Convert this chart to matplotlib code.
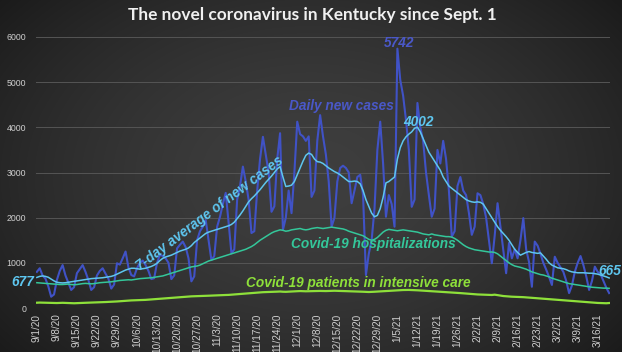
import numpy as np
import matplotlib
matplotlib.use("Agg")
import matplotlib.pyplot as plt
from matplotlib import font_manager

# ---------------- data ----------------
daily_cases = [
    800, 880, 720, 650, 480, 250, 300,
    620, 820, 950, 720, 560, 400, 460,
    770, 860, 950, 800, 620, 400, 460,
    720, 820, 880, 760, 650, 430, 520,
    990, 960, 1100, 1250, 900, 730, 700,
    880, 1000, 1050, 950, 820, 640, 660,
    1000, 1180, 1150, 1100, 1000, 640, 720,
    1320, 1400, 1470, 1350, 1100, 590, 700,
    1500, 1700, 1800, 1950, 1500, 1060, 1150,
    1800, 2020, 2300, 2550, 1900, 1210, 1300,
    2400, 2700, 3130, 2800, 2400, 1660, 1700,
    2600, 3300, 3790, 3400, 3000, 2130, 2250,
    3300, 3870, 1730, 2000, 2600, 2100, 3000,
    4125, 3850, 3800, 3700, 3800, 2460, 2600,
    3700, 4270, 3800, 3400, 2800, 1800, 2000,
    2800, 3100, 3150, 3100, 3000, 2320, 2600,
    2900, 2950, 2500, 730, 1200, 1500, 2200,
    3500, 4125, 3200, 2020, 2500, 2300, 1800,
    5742, 5050, 4700, 4160, 3500, 2240, 2400,
    4540, 4000, 3700, 3000, 2500, 2020, 2200,
    3500, 3200, 3700, 3300, 2600, 1580, 1700,
    2700, 2900, 2600, 2500, 2100, 1620, 1800,
    2540, 2500, 2300, 2000, 1500, 990, 1600,
    2320, 1800, 1300, 770, 1440, 1100, 1300,
    1100, 1500, 1990, 1300, 1020, 470, 1470,
    1380, 1200, 1000, 850, 690, 510, 1135,
    1000, 900, 800, 600, 330, 500, 800,
    1000, 1150, 950, 700, 400, 600, 915,
    800, 750, 600, 450, 330,
]

avg_7day = [
    677, 700, 710, 700, 680, 640, 600, 570, 560, 555, 560,
    570, 580, 590, 600, 610, 620, 630, 640, 650, 655,
    660, 665, 670, 680, 690, 700, 720, 750, 780, 810,
    840, 860, 880, 880, 870, 860, 870, 880, 900, 920,
    950, 990, 1050, 1100, 1130, 1150, 1170, 1200, 1230, 1260,
    1280, 1300, 1330, 1380, 1450, 1500, 1550, 1600, 1650, 1680,
    1700, 1720, 1740, 1760, 1780, 1800, 1820, 1850, 1900, 1980,
    2060, 2150, 2250, 2350, 2420, 2480, 2550, 2620, 2700, 2780,
    2850, 2920, 3000, 3080, 3130, 2900, 2690, 2700, 2720, 2800,
    2950, 3100, 3250, 3380, 3430, 3400, 3300, 3240, 3230, 3200,
    3150, 3100, 3060, 3020, 2990, 2950, 2900, 2850, 2800, 2800,
    2810, 2800, 2750, 2600, 2400, 2250, 2100, 2020, 2050, 2200,
    2450, 2770, 2800, 2850, 2900, 3300, 3550, 3700, 3790, 3850,
    3900, 3980, 4002, 3900, 3750, 3600, 3450, 3350, 3250, 3150,
    3050, 2900, 2800, 2700, 2650, 2600, 2550, 2500, 2450, 2400,
    2370, 2350, 2340, 2350, 2340, 2300, 2200, 2100, 2000, 1900,
    1800, 1720, 1650, 1580, 1500, 1400, 1300, 1230, 1170, 1200,
    1230, 1250, 1230, 1220, 1210, 1220, 1150, 1080, 1000, 950,
    920, 890, 880, 870, 850, 820, 800, 790, 780, 780,
    780, 775, 770, 770, 760, 750, 730, 710, 690, 665,
]

hospitalized = [
    560, 555, 550, 545, 540, 535, 530, 525, 520, 520,
    525, 530, 520, 515, 520, 530, 540, 545, 540, 535,
    540, 550, 560, 565, 570, 575, 580, 590, 600, 610,
    615, 620, 625, 620, 630, 640, 650, 655, 660, 665,
    670, 680, 690, 700, 710, 730, 750, 770, 790, 810,
    830, 850, 870, 890, 910, 920, 930, 950, 980, 1010,
    1040, 1060, 1080, 1100, 1120, 1140, 1160, 1180, 1200, 1220,
    1240, 1260, 1280, 1300, 1330, 1360, 1400, 1450, 1500, 1540,
    1580, 1620, 1660, 1690, 1710, 1730, 1720, 1700, 1710, 1730,
    1740, 1750, 1760, 1740, 1730, 1740, 1760, 1770, 1780, 1770,
    1760, 1770, 1780, 1790, 1780, 1770, 1760, 1750, 1730, 1700,
    1680, 1660, 1640, 1620, 1600, 1560, 1520, 1500, 1520, 1560,
    1620, 1680, 1720, 1740, 1730, 1720, 1710, 1720, 1730, 1720,
    1710, 1700, 1690, 1680, 1660, 1640, 1630, 1620, 1640, 1620,
    1610, 1600, 1590, 1580, 1580, 1570, 1540, 1500, 1450, 1400,
    1360, 1330, 1310, 1290, 1280, 1270, 1260, 1250, 1240, 1240,
    1230, 1200, 1150, 1100, 1050, 1000, 960, 930, 915, 900,
    880, 860, 830, 800, 780, 760, 740, 730, 710, 690,
    660, 640, 620, 600, 580, 560, 540, 530, 520, 510,
    500, 490, 480, 470, 460, 455, 450, 445, 440, 440,
    435,
]

icu = [
    117, 120, 118, 115, 112, 110, 108, 110, 112, 115,
    112, 110, 108, 105, 108, 110, 112, 115, 118, 120,
    122, 125, 128, 130, 132, 135, 138, 140, 145, 150,
    155, 160, 165, 168, 170, 172, 175, 178, 180, 185,
    190, 195, 200, 205, 210, 215, 220, 225, 230, 235,
    240, 245, 250, 255, 258, 260, 262, 265, 268, 270,
    272, 275, 278, 280, 282, 285, 288, 290, 295, 300,
    305, 310, 315, 320, 325, 330, 335, 340, 345, 350,
    352, 355, 358, 360, 362, 365, 360, 358, 362, 366,
    370, 372, 375, 373, 370, 372, 375, 378, 380, 378,
    376, 375, 378, 380, 382, 380, 378, 376, 374, 372,
    370, 368, 366, 364, 360, 356, 354, 356, 360, 364,
    368, 372, 376, 380, 384, 388, 392, 395, 398, 400,
    400, 398, 395, 392, 388, 384, 380, 376, 372, 368,
    364, 360, 356, 352, 348, 344, 340, 335, 330, 325,
    320, 315, 310, 305, 300, 298, 295, 292, 290, 288,
    295, 285, 275, 265, 260, 255, 250, 248, 245, 242,
    240, 235, 230, 225, 220, 215, 210, 205, 200, 195,
    190, 185, 180, 175, 170, 165, 160, 155, 150, 145,
    140, 135, 130, 125, 120, 115, 112, 110, 108, 105,
    110,
]

tick_labels = [
    "9/1/20", "9/8/20", "9/15/20", "9/22/20", "9/29/20", "10/6/20",
    "10/13/20", "10/20/20", "10/27/20", "11/3/20", "11/10/20",
    "11/17/20", "11/24/20", "12/1/20", "12/8/20", "12/15/20",
    "12/22/20", "12/29/20", "1/5/21", "1/12/21", "1/19/21", "1/26/21",
    "2/2/21", "2/9/21", "2/16/21", "2/23/21", "3/2/21", "3/9/21",
    "3/16/21",
]
y_ticks = [0, 1000, 2000, 3000, 4000, 5000, 6000]

title = "The novel coronavirus in Kentucky since Sept. 1"

# ---------------- style ----------------
W, H = 622, 352
fig = plt.figure(figsize=(W / 100, H / 100), dpi=100)

available = {f.name for f in font_manager.fontManager.ttflist}
narrow = "Liberation Sans Narrow" if "Liberation Sans Narrow" in available else "Liberation Sans"

# radial gradient background
bg = fig.add_axes([0, 0, 1, 1], zorder=-10)
yy, xx = np.mgrid[0:H, 0:W]
r = np.sqrt(((xx - W * 0.5) / (W * 0.62)) ** 2 + ((yy - H * 0.50) / (H * 0.75)) ** 2)
v = np.clip(0.245 - 0.13 * r ** 1.6, 0.09, 1)
img = np.dstack([v, v, v])
bg.imshow(img, aspect="auto", extent=[0, 1, 0, 1])
bg.axis("off")

left, right, top, bottom = 36, 610, 37, 308
ax = fig.add_axes([left / W, 1 - bottom / H, (right - left) / W, (bottom - top) / H])
ax.patch.set_alpha(0)

x = np.arange(len(daily_cases))
ax.plot(x, daily_cases, color="#4052c6", lw=1.5, zorder=3)
ax.plot(x, hospitalized, color="#34c79a", lw=1.1, zorder=4)
ax.plot(x, icu, color="#8ee03a", lw=1.6, zorder=4)
ax.plot(x, avg_7day, color="#5ec6ef", lw=1.1, zorder=5)

ax.set_ylim(0, 6000)
ax.set_xlim(-0.3, len(daily_cases) - 0.7)
ax.set_yticks(y_ticks)
ax.set_yticklabels([str(t) for t in y_ticks], family=narrow, fontsize=6.3, color="#cfcfcf")
ax.set_xticks(np.arange(len(tick_labels)) * 7)
ax.set_xticklabels(tick_labels, rotation=90, family=narrow, fontsize=7.2, color="#cfcfcf")
ax.tick_params(length=0, pad=4)
ax.tick_params(axis="y", pad=7)
for s in ax.spines.values():
    s.set_visible(False)
ax.grid(axis="y", color="#555555", lw=0.7)
ax.set_axisbelow(True)

fig.text(0.503, 1 - 15 / H, title, ha="center", va="center", family="Lato",
         fontweight="bold", fontsize=12.4, color="#f0f0f0")

lab = dict(family=narrow, fontweight="bold", style="italic", clip_on=False,
           ha="center", va="center", zorder=6)
fs = 9.8
ax.text(106.3, 4470, "Daily new cases", color="#4a58c8", fontsize=fs, **lab)
ax.text(60.5, 2100, "7-day average of new cases", color="#5ec6ef", fontsize=fs,
        rotation=37, rotation_mode="anchor", **lab)
ax.text(117.5, 1420, "Covid-19 hospitalizations", color="#34c79a", fontsize=fs, **lab)
ax.text(112.4, 560, "Covid-19 patients in intensive care", color="#8ee03a", fontsize=fs, **lab)
ax.text(126.5, 5870, "5742", color="#4a58c8", fontsize=fs, **lab)
ax.text(133.3, 4125, "4002", color="#5ec6ef", fontsize=fs, **lab)
ax.text(-4.9, 575, "677", color="#5ec6ef", fontsize=fs, **lab)
ax.text(200.2, 820, "665", color="#5ec6ef", fontsize=fs, **lab)

fig.savefig("out.png", dpi=100)
